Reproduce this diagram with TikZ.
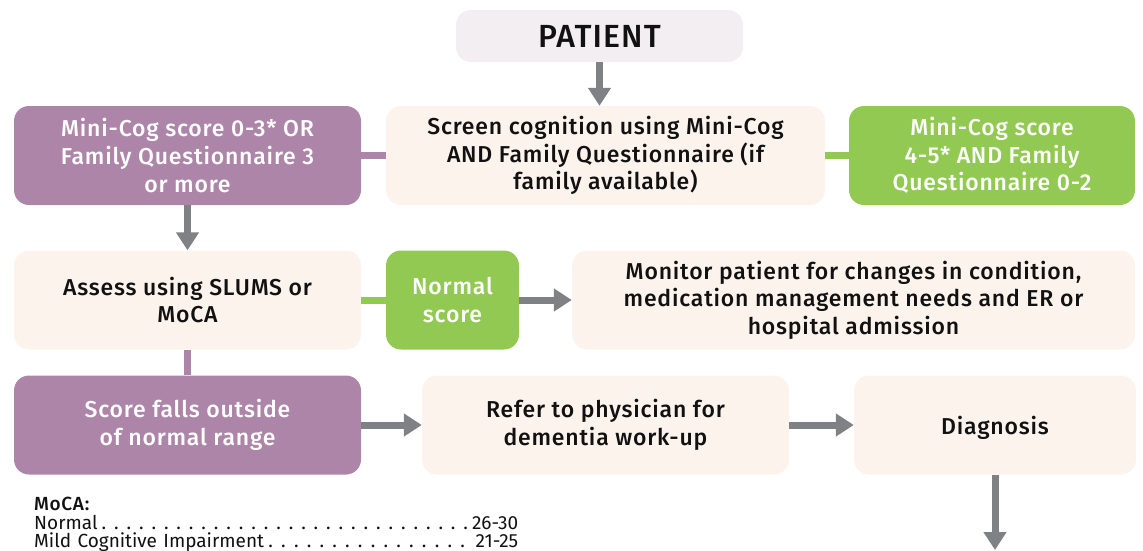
\documentclass[tikz,border=0pt]{standalone}
\usepackage{fontspec}
\setmainfont{Fira Sans}
\newfontfamily\medfont{Fira Sans Medium}[LetterSpace=3.5]
\newfontfamily\legfont{Fira Sans}
\usetikzlibrary{arrows.meta}
\definecolor{purp}{HTML}{AC85A8}
\definecolor{grn}{HTML}{92C953}
\definecolor{crm}{HTML}{FDF3ED}
\definecolor{pat}{HTML}{F2EEF2}
\definecolor{arr}{HTML}{808184}
\definecolor{ink}{HTML}{111111}
\tikzset{
  x=1pt, y=-1pt,
  box/.style={rounded corners=15pt, inner sep=0pt, align=center, minimum height=99pt,
    font=\medfont\fontsize{23}{27.5}\selectfont,
    execute at begin node={\rule{0pt}{24pt}}},
  purpbox/.style={box, fill=purp, text=white},
  grnbox/.style={box, fill=grn, text=white},
  crmbox/.style={box, fill=crm, text=ink},
  flow/.style={draw=arr, line width=7pt, -{Triangle[length=18pt,width=22pt]}},
  plink/.style={draw=purp, line width=7pt},
  glink/.style={draw=grn, line width=7pt},
  legend/.style={anchor=base west, inner sep=0pt, text width=484pt, align=left,
    font=\legfont\fontsize{19}{19}\selectfont, text=ink}
}
\newcommand{\dotlead}{\xleaders\hbox to 12.3pt{\hss.\hss}\hfill}
\begin{document}
\begin{tikzpicture}
\useasboundingbox (0,0) rectangle (1143,550);
% row 0
\node[rounded corners=15pt, inner sep=0pt, fill=pat, text=ink, minimum width=287pt, minimum height=52pt, font=\medfont\fontsize{32}{34}\selectfont] (patient) at (599.5,36) {PATIENT};
% row 1
\node[purpbox, minimum width=347pt] (mc1) at (187.5,155.5) {Mini-Cog score 0-3* OR\\Family Questionnaire 3\\or more};
\node[crmbox, minimum width=439pt] (screen) at (605.5,155.5) {Screen cognition using Mini-Cog\\AND Family Questionnaire (if\\family available)};
\node[grnbox, minimum width=286pt] (mc2) at (992,155.5) {Mini-Cog score\\4-5* AND Family\\Questionnaire 0-2};
% row 2
\node[crmbox, minimum width=347pt] (assess) at (187.5,300) {Assess using SLUMS or\\MoCA};
\node[grnbox, minimum width=133pt] (normal) at (452.5,300) {Normal\\score};
\node[crmbox, minimum width=563pt] (monitor) at (853.5,300) {Monitor patient for changes in condition,\\medication management needs and ER or\\hospital admission};
% row 3
\node[purpbox, minimum width=347pt] (outside) at (187.5,425) {Score falls outside\\of normal range};
\node[crmbox, minimum width=367pt] (refer) at (605.5,425) {Refer to physician for\\dementia work-up};
\node[crmbox, minimum width=282pt] (diag) at (995,425) {Diagnosis};
\coordinate (end) at (995,550);
% links
\draw[plink] (mc1.east) -- (screen.west);
\draw[glink] (screen.east) -- (mc2.west);
\draw[glink] (assess.east) -- (normal.west);
\draw[plink] (assess.south) -- (outside.north);
% arrows
\draw[flow] (patient.south) -- (patient.south |- screen.north);
\draw[flow] (mc1.south) -- (assess.north);
\draw[flow] (normal.east) -- (monitor.west);
\draw[flow] (outside.east) -- (refer.west);
\draw[flow] (refer.east) -- (diag.west);
\draw[flow] (diag.south) -- (end);
% legend
\node[legend, font=\medfont\fontsize{19}{19}\selectfont] (lt) at (34,510) {MoCA:};
\node[legend] (l1) at (34,529) {Normal\dotlead26-30};
\node[legend] (l2) at (34,547.5) {Mild Cognitive Impairment\dotlead\ 21-25};
\end{tikzpicture}
\end{document}
